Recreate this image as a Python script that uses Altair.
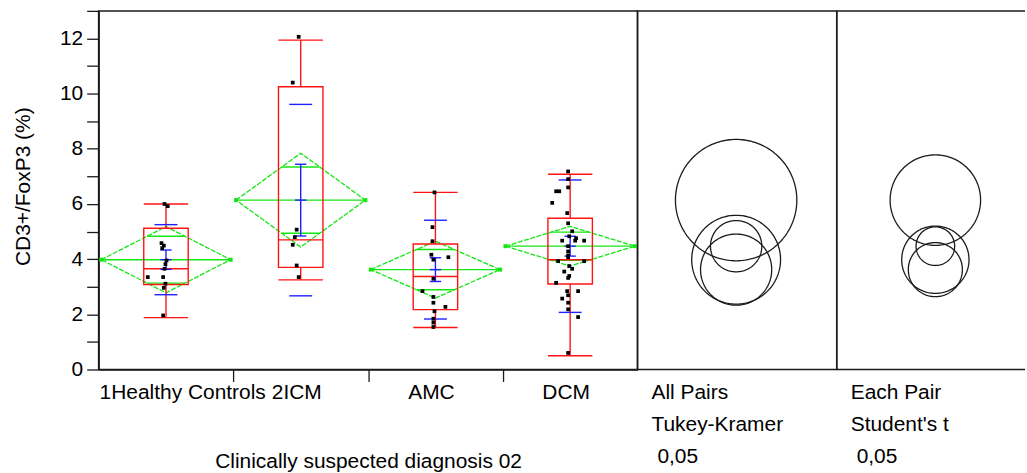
import altair as alt
import numpy as np
import pandas as pd

# ---------------------------------------------------------------- data ----
groups = ["1Healthy Controls", "2ICM", "AMC", "DCM"]

# box-plot summary per group
q1 = [3.08, 3.70, 2.17, 3.10]
median = [3.65, 4.70, 3.37, 3.98]
q3 = [5.12, 10.25, 4.55, 5.48]
whisker_lo = [1.88, 3.25, 1.52, 0.50]
whisker_hi = [6.00, 11.94, 6.42, 7.08]

# means diamonds (95% CI half-width), std dev lines and std error bars
means = [3.98, 6.14, 3.62, 4.47]
ci95 = [1.20, 1.70, 1.03, 0.72]
std_dev = [1.27, 3.47, 1.79, 2.40]
std_err = [0.35, 1.30, 0.43, 0.36]

# comparison circle radii
tukey_radius = [1.61, 2.20, 1.29, 0.93]
student_radius = [1.22, 1.64, 0.98, 0.70]

# individual observations and their horizontal jitter (fraction of a group)
hc_values = [6.00, 5.92, 4.58, 4.49, 4.40, 3.95, 3.82, 3.65, 3.35, 3.35, 3.11, 2.96, 1.96]
hc_jitter = [-0.011, 0.013, -0.033, -0.016, -0.028, 0.004, -0.004, -0.011, -0.135, -0.021, -0.004, -0.016, -0.021]
icm_values = [12.06, 10.40, 5.07, 4.80, 4.52, 3.77, 3.35]
icm_jitter = [-0.015, -0.059, -0.030, -0.044, -0.059, -0.030, -0.015]
amc_values = [6.42, 5.16, 4.65, 4.16, 4.07, 3.98, 3.29, 2.84, 2.63, 2.42, 2.27, 2.11, 1.84, 1.70, 1.54]
amc_jitter = [-0.007, -0.022, -0.022, -0.030, 0.096, -0.015, -0.015, -0.096, -0.015, -0.015, 0.074, -0.007, -0.015, -0.015, -0.015]
dcm_values = [7.18, 6.90, 6.60, 6.46, 6.46, 6.04, 5.67, 5.30, 5.01, 4.83, 4.76, 4.67, 4.67, 4.67,
              4.47, 4.28, 4.13, 4.07, 3.93, 3.93, 3.75, 3.65, 3.55, 3.39, 3.32, 3.14, 2.84, 2.84,
              2.69, 2.57, 2.42, 2.18, 1.90, 0.60]
dcm_jitter = [-0.015, -0.015, -0.015, -0.104, -0.081, -0.133, -0.022, -0.015, 0.015, -0.007, 0.044, -0.059, 0.037, 0.104,
              -0.015, -0.015, -0.015, -0.015, -0.089, 0.104, -0.007, 0.015, -0.044, -0.007, -0.015, -0.104, -0.022, 0.059,
              -0.015, -0.059, -0.015, -0.015, 0.059, -0.015]

tukey_caption = ["All Pairs", "Tukey-Kramer", "0,05"]
student_caption = ["Each Pair", "Student's t", "0,05"]

# ------------------------------------------------------------- layout ----
H = 360
W_MAIN = 541
W_TUKEY = 200
W_STUDENT = 189
Y_TOP = 13
UNITS_PER_PX = Y_TOP / H

FONT = "Liberation Sans"
FS = 21
ROW1 = H + 24          # first text row below the axis
ROW_STEP = 32
RED = "#ff1414"
GREEN = "#14e614"
BLUE = "#2020ff"
INK = "#1a1a1a"

BOX_HW = 0.165
DIAMOND_HW = 0.48
SD_HW = 0.085
SE_HW = 0.042

stats = pd.DataFrame(dict(group=groups, q1=q1, median=median, q3=q3, lo=whisker_lo,
                          hi=whisker_hi, mean=means, ci=ci95, sd=std_dev, se=std_err))
stats["xc"] = np.arange(len(groups)) + 0.5

obs = pd.concat([
    pd.DataFrame(dict(group=g, value=v, jitter=j, idx=i))
    for i, (g, v, j) in enumerate(zip(groups,
                                      [hc_values, icm_values, amc_values, dcm_values],
                                      [hc_jitter, icm_jitter, amc_jitter, dcm_jitter]))
])
obs["x"] = obs["idx"] + 0.5 + obs["jitter"]

x_main = alt.Scale(domain=[0, len(groups)], nice=False, zero=False)
y_all = alt.Scale(domain=[0, Y_TOP], nice=False, zero=True)

x_axis = alt.Axis(values=[1, 2, 3], labels=False, tickSize=12, tickColor=INK, tickWidth=1.3,
                  domainColor=INK, domainWidth=1.5, grid=False,
                  title="Clinically suspected diagnosis 02", titleFont=FONT, titleFontSize=FS,
                  titleFontWeight="normal", titleColor="black", titleY=92, titleBaseline="middle")
y_axis = alt.Axis(values=list(range(0, Y_TOP + 1)),
                  labelExpr="datum.value % 2 == 0 && datum.value < 13 ? datum.label : ''",
                  tickSize=12, tickColor=INK, tickWidth=1.3, domainColor=INK, domainWidth=1.5,
                  labelFont=FONT, labelFontSize=FS, labelColor="black", labelPadding=4, grid=False,
                  title="CD3+/FoxP3 (%)", titleFont=FONT, titleFontSize=FS, titleFontWeight="normal",
                  titleColor="black", titleX=-75, titleY=H / 2 - 4, titleBaseline="middle")


def seg(rows):
    return pd.DataFrame(rows, columns=["x", "x2", "y", "y2"])


green_rows, red_rows, blue_rows, diamond_rows, apex_rows = [], [], [], [], []
k_ov = 1 / np.sqrt(2)
for _, r in stats.iterrows():
    c, m, h = r.xc, r["mean"], r.ci
    # means diamond outline
    for k, (px, py) in enumerate([(c - DIAMOND_HW, m), (c, m + h), (c + DIAMOND_HW, m),
                                   (c, m - h), (c - DIAMOND_HW, m)]):
        diamond_rows.append(dict(group=r.group, k=k, x=px, y=py))
    apex_rows += [dict(x=c - DIAMOND_HW, y=m), dict(x=c + DIAMOND_HW, y=m)]
    ov_hw = DIAMOND_HW * (1 - k_ov)
    green_rows += [(c - DIAMOND_HW, c + DIAMOND_HW, m, m),
                   (c - ov_hw, c + ov_hw, m + h * k_ov, m + h * k_ov),
                   (c - ov_hw, c + ov_hw, m - h * k_ov, m - h * k_ov)]
    # box plot whiskers, caps and median
    red_rows += [(c, c, r.q3, r.hi), (c, c, r.lo, r.q1),
                 (c - BOX_HW, c + BOX_HW, r.hi, r.hi), (c - BOX_HW, c + BOX_HW, r.lo, r.lo),
                 (c - BOX_HW, c + BOX_HW, r["median"], r["median"])]
    # std dev lines and std error bar
    blue_rows += [(c - SD_HW, c + SD_HW, m + r.sd, m + r.sd), (c - SD_HW, c + SD_HW, m - r.sd, m - r.sd),
                  (c, c, m - r.se, m + r.se),
                  (c - SE_HW, c + SE_HW, m + r.se, m + r.se), (c - SE_HW, c + SE_HW, m - r.se, m - r.se),
                  (c - SE_HW, c + SE_HW, m, m)]


def rules(rows, color, width):
    return alt.Chart(seg(rows)).mark_rule(color=color, strokeWidth=width).encode(
        x=alt.X("x:Q", scale=x_main, axis=x_axis), x2="x2:Q",
        y=alt.Y("y:Q", scale=y_all, axis=y_axis), y2="y2:Q")


diamonds = alt.Chart(pd.DataFrame(diamond_rows)).mark_line(
    color=GREEN, strokeWidth=1.3, strokeDash=[5, 1.5]).encode(
    x=alt.X("x:Q", scale=x_main, axis=x_axis), y=alt.Y("y:Q", scale=y_all, axis=y_axis),
    detail="group:N", order="k:Q")
apexes = alt.Chart(pd.DataFrame(apex_rows)).mark_square(color=GREEN, size=16, opacity=1).encode(
    x=alt.X("x:Q", scale=x_main, axis=x_axis), y=alt.Y("y:Q", scale=y_all, axis=y_axis))

boxes = alt.Chart(stats).mark_rect(stroke=RED, strokeWidth=1.4, fillOpacity=0).transform_calculate(
    bx="datum.xc - %f" % BOX_HW, bx2="datum.xc + %f" % BOX_HW).encode(
    x=alt.X("bx:Q", scale=x_main, axis=x_axis), x2="bx2:Q",
    y=alt.Y("q1:Q", scale=y_all, axis=y_axis), y2="q3:Q")

points = alt.Chart(obs).mark_square(color="black", size=14, opacity=1).encode(
    x=alt.X("x:Q", scale=x_main, axis=x_axis), y=alt.Y("value:Q", scale=y_all, axis=y_axis))

first_label = alt.Chart(stats.iloc[:1]).mark_text(
    align="left", baseline="middle", fontSize=FS, font=FONT, color="black", dx=1).transform_calculate(
    left="datum.xc - 0.5").encode(x=alt.X("left:Q", scale=x_main, axis=x_axis), y=alt.value(ROW1), text="group:N")
other_labels = alt.Chart(stats.iloc[1:]).mark_text(
    align="center", baseline="middle", fontSize=FS, font=FONT, color="black", dx=-4).encode(
    x=alt.X("xc:Q", scale=x_main, axis=x_axis), y=alt.value(ROW1), text="group:N")

main = alt.layer(
    diamonds, rules(green_rows, GREEN, 1.4), apexes,
    boxes, rules(red_rows, RED, 1.4),
    rules(blue_rows, BLUE, 1.4),
    points, first_label, other_labels,
).properties(width=W_MAIN, height=H)


def circle_table(radii):
    theta = np.linspace(0, 2 * np.pi, 181)
    parts = [pd.DataFrame(dict(group=g, k=np.arange(theta.size),
                               x=r * np.cos(theta), y=m + r * np.sin(theta)))
             for g, m, r in zip(groups, means, radii)]
    return pd.concat(parts)


def comparison_panel(radii, caption, width, centre_px):
    xs = alt.Scale(domain=[-centre_px * UNITS_PER_PX, (width - centre_px) * UNITS_PER_PX],
                   nice=False, zero=False)
    circles = alt.Chart(circle_table(radii)).mark_line(color=INK, strokeWidth=1.3).encode(
        x=alt.X("x:Q", scale=xs, axis=None), y=alt.Y("y:Q", scale=y_all, axis=None),
        detail="group:N", order="k:Q")
    layers = [circles]
    for i, line in enumerate(caption):
        # the alpha level sits slightly indented under the method name
        indent = 6 if i == len(caption) - 1 else 0
        layers.append(alt.Chart(pd.DataFrame({"t": [line]})).mark_text(
            align="left", baseline="middle", fontSize=FS, font=FONT, color="black", dx=indent).encode(
            x=alt.value(14), y=alt.value(ROW1 + ROW_STEP * i), text="t:N"))
    return layers


tukey = alt.layer(*comparison_panel(tukey_radius, tukey_caption, W_TUKEY, 99)).properties(
    width=W_TUKEY, height=H)

frame = alt.Chart(pd.DataFrame({"edge": ["top", "bottom", "left"]}))
top_edge = frame.transform_filter("datum.edge == 'top'").mark_rule(color=INK, strokeWidth=1.5).encode(
    x=alt.value(0), x2=alt.value(W_STUDENT), y=alt.value(0))
bottom_edge = frame.transform_filter("datum.edge == 'bottom'").mark_rule(color=INK, strokeWidth=1.5).encode(
    x=alt.value(0), x2=alt.value(W_STUDENT), y=alt.value(H))
left_edge = frame.transform_filter("datum.edge == 'left'").mark_rule(color=INK, strokeWidth=1.5).encode(
    x=alt.value(0), y=alt.value(0), y2=alt.value(H))
student = alt.layer(*comparison_panel(student_radius, student_caption, W_STUDENT, 99),
                    top_edge, bottom_edge, left_edge).properties(
    width=W_STUDENT, height=H, view=alt.ViewBackground(stroke="transparent"))

chart = alt.hconcat(main, tukey, student, spacing=0, bounds="flush").properties(
    padding={"left": 12, "top": 8, "right": 0, "bottom": 0}
).configure(font=FONT).configure_view(stroke=INK, strokeWidth=1.5)

chart.save("out.html", embed_options={"renderer": "svg", "actions": False})
